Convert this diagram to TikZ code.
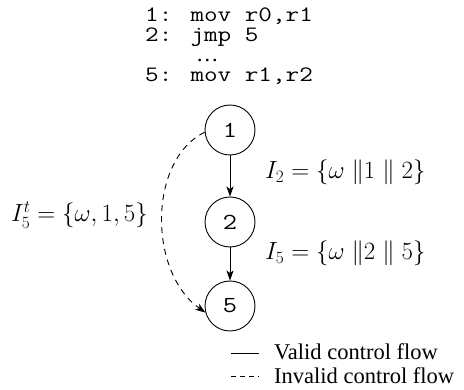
\documentclass[tikz,border=0pt]{standalone}
\usepackage{fontspec}
\usepackage{graphicx}
\setmainfont{Liberation Serif}
\usetikzlibrary{arrows.meta}
\newcommand{\codeline}[1]{\scalebox{1.2}[1]{#1}}
\begin{document}
\begin{tikzpicture}[x=1pt,y=-1pt,
  codetext/.style={anchor=base west,inner sep=0pt,font=\fontsize{22}{24}\selectfont\ttfamily},
  statenode/.style={circle,draw,line width=0.9pt,minimum size=50pt,inner sep=0pt,font=\fontsize{23}{26}\selectfont\ttfamily},
  flow/.style={line width=0.9pt,-{Stealth[length=10pt,width=7pt,inset=2.5pt]}},
  badflow/.style={flow,dash pattern=on 6pt off 5pt},
  mathlabel/.style={inner sep=0pt,font=\fontsize{23.5}{26}\selectfont},
  legendtext/.style={anchor=base west,inner sep=0pt,font=\fontsize{22.5}{24}\selectfont}]
\useasboundingbox (0,0) rectangle (464,390);
% code
\node[codetext] (c1) at (145,22) {\codeline{1: mov r0,r1}};
\node[codetext] (c2) at (145,42) {\codeline{2: jmp 5}};
\node[legendtext] (c3) at (196,62) {\ldots};
\node[codetext] (c5) at (145,82) {\codeline{5: mov r1,r2}};
% states
\node[statenode] (n1) at (230,130) {\codeline{1}};
\node[statenode] (n2) at (230,222) {\codeline{2}};
\node[statenode] (n5) at (230,306) {\codeline{5}};
\draw[flow] (n1) -- (n2);
\draw[flow] (n2) -- (n5);
\draw[badflow] (n1.185) .. controls (148,160) and (148,272) .. (n5.195);
% labels
\node[mathlabel,anchor=base west] (l2) at (265,179) {$I_2=\{\omega\;\|1\;\|\;2\}$};
\node[mathlabel,anchor=base west] (l5) at (265,260) {$I_5=\{\omega\;\|2\;\|\;5\}$};
\node[mathlabel,anchor=base east] (l5t) at (148,222) {$I_5^t=\{\omega,1,5\}$};
% legend
\coordinate (a1) at (231,353);
\coordinate (b1) at (259,353);
\coordinate (a2) at (231,376);
\coordinate (b2) at (259,376);
\draw[line width=0.9pt] (a1) -- (b1);
\draw[line width=0.9pt,dash pattern=on 5pt off 4pt] (a2) -- (b2);
\node[legendtext] (t1) at (274,360) {Valid control flow};
\node[legendtext] (t2) at (274,384) {Invalid control flow};
\end{tikzpicture}
\end{document}
